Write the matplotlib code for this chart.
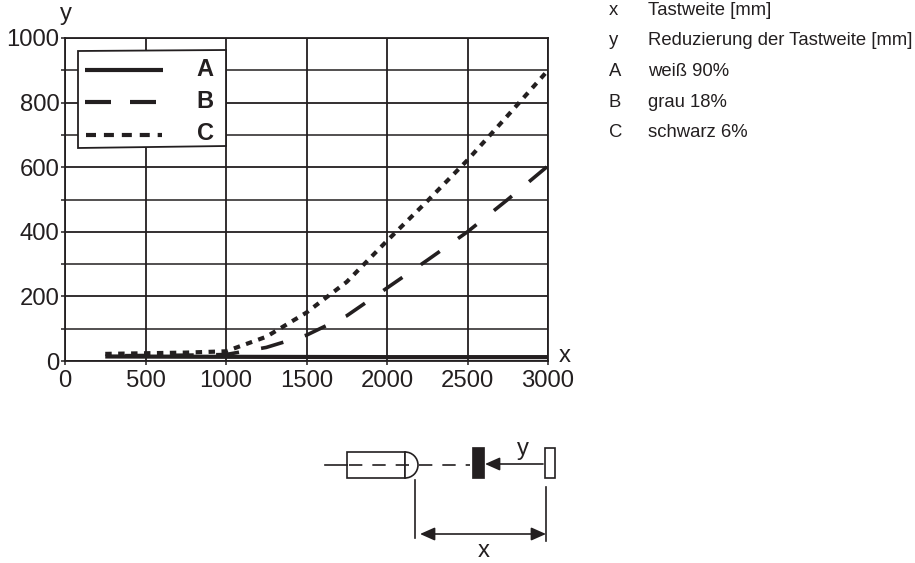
import matplotlib
matplotlib.use('Agg')
import matplotlib.pyplot as plt
from matplotlib.patches import Polygon, Rectangle, Wedge

plt.rcParams['font.family'] = ['Liberation Sans', 'DejaVu Sans']

INK = '#231f20'

# values
x_a = [250, 1000, 2000, 3000]
y_a = [14, 13, 12, 12]
x_b = [250, 500, 750, 1000, 1250, 1500, 1750, 2000, 2250, 2500, 2750, 3000]
y_b = [16, 17, 18, 20, 42, 80, 140, 226, 312, 400, 500, 604]
x_c = [250, 500, 750, 1000, 1250, 1500, 1750, 2000, 2250, 2500, 2750, 3000]
y_c = [22, 24, 26, 30, 75, 150, 245, 372, 495, 622, 760, 900]

x_ticks = [0, 500, 1000, 1500, 2000, 2500, 3000]
y_ticks = [0, 200, 400, 600, 800, 1000]
y_minor = [100, 300, 500, 700, 900]

key_labels = ['x', 'y', 'A', 'B', 'C']
key_texts = ['Tastweite [mm]', 'Reduzierung der Tastweite [mm]',
             'weiß 90%', 'grau 18%', 'schwarz 6%']
key_rows = [15, 45, 76, 107, 137]

W, H = 915, 563
fig = plt.figure(figsize=(W / 100, H / 100), dpi=100)

ax = fig.add_axes([65 / W, 1 - 361 / H, 483 / W, 323 / H])
ax.set_xlim(0, 3000)
ax.set_ylim(0, 1000)
ax.set_xticks(x_ticks)
ax.set_yticks(y_ticks)
ax.set_yticks(y_minor, minor=True)
ax.grid(True, which='major', color=INK, lw=1.3)
ax.grid(True, which='minor', axis='y', color=INK, lw=1.1)
ax.set_axisbelow(True)
ax.tick_params(which='both', length=3, width=1.1, color=INK, labelsize=17.2,
               labelcolor=INK, pad=1)
ax.tick_params(axis='x', pad=3.7)
for s in ax.spines.values():
    s.set_color(INK)
    s.set_linewidth(1.3)

ax.plot(x_a, y_a, color=INK, lw=3.0, solid_capstyle='butt', clip_on=False)
ax.plot(x_b, y_b, color=INK, lw=2.6, ls=(7.1, (6.4, 6.2)), dash_capstyle='butt', clip_on=False)
ax.plot(x_c, y_c, color=INK, lw=3.0, dashes=(1.55, 1.55), dash_capstyle='butt', clip_on=False)

# overlay in pixel coordinates for the legend box, key and sensor sketch
ov = fig.add_axes([0, 0, 1, 1])
ov.set_xlim(0, W)
ov.set_ylim(H, 0)
ov.axis('off')
ov.patch.set_alpha(0)

ov.add_patch(Polygon([(78, 51), (226, 50), (226, 146), (78, 148)], closed=True,
                     fc='white', ec=INK, lw=1.3))
ov.plot([85, 163], [70, 70], color=INK, lw=3.0, solid_capstyle='butt')
ov.plot([85, 111], [102, 102], color=INK, lw=3.0, solid_capstyle='butt')
ov.plot([130, 156], [102, 102], color=INK, lw=3.0, solid_capstyle='butt')
ov.plot([86, 162], [135, 135], color=INK, lw=3.0, dashes=(2.4, 1.9), dash_capstyle='butt')
for name, row in zip(['A', 'B', 'C'], [70, 102, 133]):
    ov.text(205, row, name, fontsize=17, fontweight='bold', color=INK, ha='center', va='center')

ov.text(565, 356, 'x', fontsize=17.2, color=INK, ha='center', va='center')
ov.text(66, 14, 'y', fontsize=17.2, color=INK, ha='center', va='center')

for lab, txt, row in zip(key_labels, key_texts, key_rows):
    ov.text(609, row, lab, fontsize=13.35, color=INK, va='baseline')
    ov.text(648, row, txt, fontsize=13.35, color=INK, va='baseline')

# sensor sketch
ov.plot([325, 347], [465, 465], color=INK, lw=1.2)
ov.add_patch(Rectangle((347, 452), 58, 26, fc='white', ec=INK, lw=1.2))
ov.add_patch(Wedge((405, 465), 13, -90, 90, fc='white', ec=INK, lw=1.2))
ov.plot([349, 470], [465, 465], color=INK, lw=1.2, dashes=(8, 6))
ov.add_patch(Rectangle((472, 447), 12, 31, fc=INK, ec=INK, lw=0.5))
ov.add_patch(Rectangle((545, 448), 10, 30, fc='white', ec=INK, lw=1.2))
ov.annotate('', xy=(485, 464), xytext=(543, 464),
            arrowprops=dict(arrowstyle='-|>,head_length=0.9,head_width=0.4', color=INK, lw=1.2,
                            shrinkA=0, shrinkB=0))
ov.plot([415, 415], [480, 538], color=INK, lw=1.2)
ov.plot([546, 546], [487, 541], color=INK, lw=1.2)
ov.annotate('', xy=(420, 534), xytext=(546, 534),
            arrowprops=dict(arrowstyle='<|-|>,head_length=0.9,head_width=0.4', color=INK, lw=1.2,
                            shrinkA=0, shrinkB=0))
ov.text(523, 449, 'y', fontsize=17.2, color=INK, ha='center', va='center')
ov.text(484, 551, 'x', fontsize=17.2, color=INK, ha='center', va='center')

fig.savefig('out.png', dpi=100)
